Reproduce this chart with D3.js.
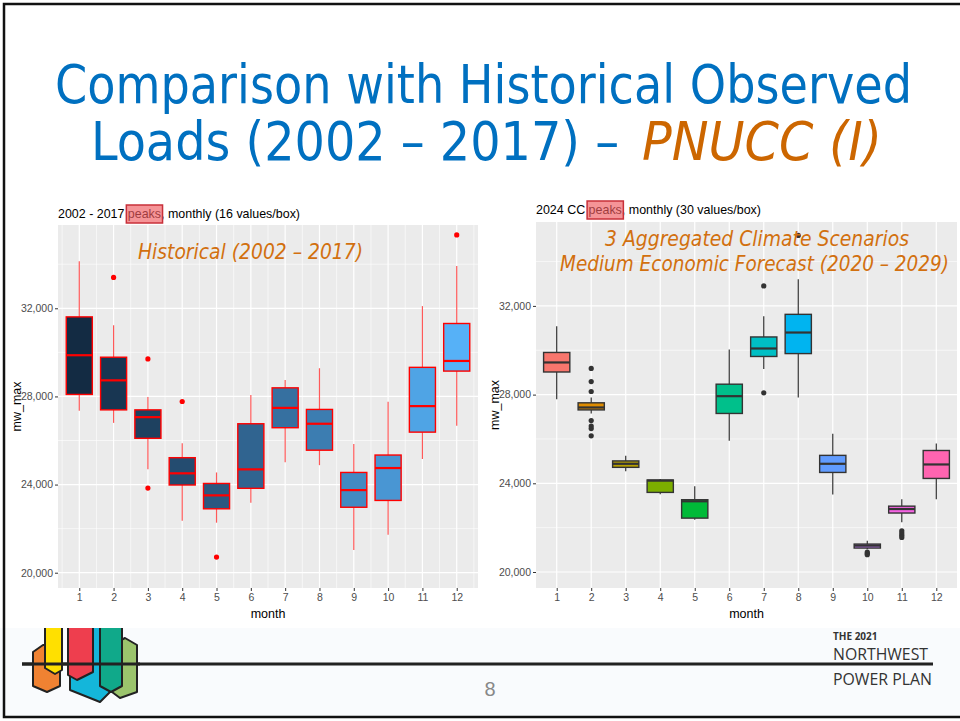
<!DOCTYPE html>
<html lang="en">
<head>
<meta charset="UTF-8">
<title>Comparison with Historical Observed Loads</title>
<script src="https://d3js.org/d3.v7.min.js"></script>
<style>
  body { margin: 0; background: #fff; }
  text { font-family: "Liberation Sans", Arial, sans-serif; }
</style>
</head>
<body>
<script>
// months on the x axis
const months = [1, 2, 3, 4, 5, 6, 7, 8, 9, 10, 11, 12];
const yTicks = [20000, 24000, 28000, 32000];
const yMinor = [22000, 26000, 30000, 34000];

// historical 2002 - 2017 peaks (left chart)
const histLow  = [27350, 26800, 24690, 22360, 22270, 23180, 25010, 24880, 21030, 21720, 25160, 26670];
const histQ1   = [28090, 27390, 26100, 23980, 22900, 23830, 26580, 25560, 22970, 23280, 26380, 29150];
const histMed  = [29870, 28730, 27060, 24510, 23510, 24690, 27480, 26760, 23750, 24750, 27560, 29610];
const histQ3   = [31610, 29780, 27390, 25220, 24050, 26760, 28390, 27410, 24550, 25340, 29320, 31310];
const histHigh = [34140, 31230, 27970, 25870, 24550, 28060, 28740, 29280, 25840, 27760, 32100, 33920];
const histOutliers = [[2, 33400], [3, 29700], [3, 23840], [4, 27770], [5, 20710], [12, 35330]];

// 2024 climate change scenario peaks (right chart)
const ccLow  = [27790, 27150, 24540, 23510, 22360, 25920, 29160, 27870, 23500, 21030, 22240, 23280];
const ccQ1   = [29020, 27310, 24720, 23590, 22430, 27150, 29720, 29850, 24490, 21080, 22660, 24220];
const ccMed  = [29450, 27420, 24880, 24120, 23190, 27930, 30080, 30800, 24880, 21190, 22840, 24850];
const ccQ3   = [29900, 27630, 25010, 24150, 23260, 28470, 30600, 31620, 25260, 21260, 22970, 25480];
const ccHigh = [31080, 27870, 25240, 24200, 23870, 30030, 31530, 33200, 26230, 21410, 23280, 25800];
const ccOutliers = [[2, 29180], [2, 28590], [2, 28140], [2, 26830], [2, 26580], [2, 26470], [2, 26140],
  [7, 32900], [7, 28080], [8, 35180], [10, 20900], [10, 20840], [10, 20780],
  [11, 21860], [11, 21760], [11, 21660], [11, 21560]];
const ccColors = ["#F8766D", "#DE8C00", "#B79F00", "#7CAE00", "#00BA38", "#00C08B",
  "#00BFC4", "#00B4F0", "#619CFF", "#C77CFF", "#F564E3", "#FF64B0"];

const width = 960, height = 721;
const svg = d3.select("body").append("svg")
  .attr("width", width)
  .attr("height", height);

// slide background + frame
svg.append("rect").attr("width", width).attr("height", height).attr("fill", "#fff");
svg.append("rect").attr("x", 0).attr("y", 628).attr("width", width).attr("height", 89).attr("fill", "#f9fbfd");
svg.append("path")
  .attr("d", "M960,4 H4 V717 H960")
  .attr("fill", "none").attr("stroke", "#111").attr("stroke-width", 2.5);

// title
const titleFont = "'Liberation Sans Narrow', 'DejaVu Sans Condensed', sans-serif";
svg.append("text")
  .attr("x", 55).attr("y", 103)
  .attr("textLength", 857).attr("lengthAdjust", "spacingAndGlyphs")
  .style("font-family", titleFont)
  .style("font-size", "54px").attr("fill", "#0070C0")
  .text("Comparison with Historical Observed");
svg.append("text")
  .attr("x", 91).attr("y", 160)
  .attr("textLength", 528).attr("lengthAdjust", "spacingAndGlyphs")
  .style("font-family", titleFont)
  .style("font-size", "54px").attr("fill", "#0070C0")
  .text("Loads (2002 – 2017) –");
svg.append("text")
  .attr("x", 642).attr("y", 160)
  .attr("textLength", 240).attr("lengthAdjust", "spacingAndGlyphs")
  .style("font-family", titleFont)
  .style("font-size", "54px").style("font-style", "italic").attr("fill", "#CC6600")
  .text("PNUCC (I)");

function drawChart(cfg) {
  const g = svg.append("g");
  const y = d3.scaleLinear().domain(cfg.yDomain).range([cfg.bottom, cfg.top]);
  let x;
  if (cfg.discrete) {
    x = d3.scalePoint().domain(months).range([cfg.left, cfg.right]).padding(0.6);
  } else {
    x = d3.scaleLinear().domain([0.38, 12.62]).range([cfg.left, cfg.right]);
  }
  const step = (x(12) - x(1)) / 11;
  const boxW = step * 0.76;

  g.append("rect")
    .attr("x", cfg.left).attr("y", cfg.top)
    .attr("width", cfg.right - cfg.left).attr("height", cfg.bottom - cfg.top)
    .attr("fill", "#EBEBEB");

  g.selectAll(".ymin").data(yMinor).join("line")
    .attr("x1", cfg.left).attr("x2", cfg.right)
    .attr("y1", d => y(d)).attr("y2", d => y(d))
    .attr("stroke", "#fff").attr("stroke-width", 0.6);
  if (!cfg.discrete) {
    g.selectAll(".xmin").data(months.concat([0])).join("line")
      .attr("x1", d => x(d + 0.5)).attr("x2", d => x(d + 0.5))
      .attr("y1", cfg.top).attr("y2", cfg.bottom)
      .attr("stroke", "#fff").attr("stroke-width", 0.6);
  }
  g.selectAll(".ymaj").data(yTicks).join("line")
    .attr("x1", cfg.left).attr("x2", cfg.right)
    .attr("y1", d => y(d)).attr("y2", d => y(d))
    .attr("stroke", "#fff").attr("stroke-width", 1.2);
  g.selectAll(".xmaj").data(months).join("line")
    .attr("x1", d => x(d)).attr("x2", d => x(d))
    .attr("y1", cfg.top).attr("y2", cfg.bottom)
    .attr("stroke", "#fff").attr("stroke-width", 1.2);

  // axes
  const yAxis = d3.axisLeft(y).tickValues(yTicks).tickSize(3).tickPadding(2)
    .tickFormat(d3.format(","));
  const ya = g.append("g").attr("transform", `translate(${cfg.left},0)`).call(yAxis);
  const xAxis = d3.axisBottom(x).tickValues(months).tickSize(3).tickPadding(3)
    .tickFormat(d3.format("d"));
  const xa = g.append("g").attr("transform", `translate(0,${cfg.bottom})`).call(xAxis);
  [ya, xa].forEach(a => {
    a.select(".domain").remove();
    a.selectAll("line").attr("stroke", "#333");
    a.selectAll("text").attr("fill", "#4D4D4D")
      .style("font-size", "10.5px").style("font-family", "'Liberation Sans', Arial, sans-serif");
  });

  g.append("text")
    .attr("x", (cfg.left + cfg.right) / 2).attr("y", 618)
    .attr("text-anchor", "middle").style("font-size", "12.5px").attr("fill", "#000")
    .text("month");
  g.append("text")
    .attr("transform", `translate(${cfg.yLabelX},${(cfg.top + cfg.bottom) / 2}) rotate(-90)`)
    .attr("text-anchor", "middle").style("font-size", "12.5px").attr("fill", "#000")
    .text("mw_max");

  // boxplots
  const boxes = g.selectAll(".box").data(months).join("g");
  boxes.append("line")
    .attr("x1", d => x(d)).attr("x2", d => x(d))
    .attr("y1", (d, i) => y(cfg.high[i])).attr("y2", (d, i) => y(cfg.q3[i]))
    .attr("stroke", cfg.lineColor).attr("stroke-opacity", cfg.whiskerOpacity).attr("stroke-width", 1.2);
  boxes.append("line")
    .attr("x1", d => x(d)).attr("x2", d => x(d))
    .attr("y1", (d, i) => y(cfg.q1[i])).attr("y2", (d, i) => y(cfg.low[i]))
    .attr("stroke", cfg.lineColor).attr("stroke-opacity", cfg.whiskerOpacity).attr("stroke-width", 1.2);
  boxes.append("rect")
    .attr("x", d => x(d) - boxW / 2).attr("width", boxW)
    .attr("y", (d, i) => y(cfg.q3[i]))
    .attr("height", (d, i) => y(cfg.q1[i]) - y(cfg.q3[i]))
    .attr("fill", (d, i) => cfg.fill(d, i))
    .attr("stroke", cfg.lineColor).attr("stroke-width", 1.4);
  boxes.append("line")
    .attr("x1", d => x(d) - boxW / 2).attr("x2", d => x(d) + boxW / 2)
    .attr("y1", (d, i) => y(cfg.med[i])).attr("y2", (d, i) => y(cfg.med[i]))
    .attr("stroke", cfg.lineColor).attr("stroke-width", 2.2);

  g.selectAll(".outlier").data(cfg.outliers).join("circle")
    .attr("cx", d => x(d[0])).attr("cy", d => y(d[1]))
    .attr("r", 2.6).attr("fill", cfg.lineColor);

  // plot title with highlighted word
  const t = g.append("text")
    .attr("x", cfg.left).attr("y", cfg.titleY)
    .attr("textLength", cfg.titleLen).attr("lengthAdjust", "spacingAndGlyphs")
    .style("font-size", "13px").attr("fill", "#000")
    .text(cfg.title);
  const node = t.node();
  const s = cfg.title.indexOf("peaks");
  const x0 = node.getStartPositionOfChar(s).x;
  const x1 = node.getEndPositionOfChar(s + 4).x;
  g.append("rect")
    .attr("x", x0 - 1.5).attr("y", cfg.titleY - 13)
    .attr("width", x1 - x0 + 3).attr("height", 18)
    .attr("fill", "#F05A5F").attr("fill-opacity", 0.65)
    .attr("stroke", "#C8303A").attr("stroke-width", 1.5);

  // annotation lines
  cfg.notes.forEach(n => {
    g.append("text")
      .attr("x", n.x).attr("y", n.y)
      .attr("textLength", n.len).attr("lengthAdjust", "spacingAndGlyphs")
      .style("font-family", "'DejaVu Sans', Verdana, sans-serif")
      .style("font-size", "21px").style("font-style", "italic")
      .attr("fill", "#D2700F")
      .text(n.text);
  });
}

const histFill = d3.interpolateLab("#132B43", "#56B1F7");

drawChart({
  left: 58, right: 478, top: 225, bottom: 588,
  yDomain: [19306, 35780], discrete: false,
  low: histLow, q1: histQ1, med: histMed, q3: histQ3, high: histHigh,
  outliers: histOutliers,
  fill: d => histFill((d - 1) / 11),
  lineColor: "#FF0000", whiskerOpacity: 0.65,
  yLabelX: 21,
  title: "2002 - 2017 peaks, monthly (16 values/box)", titleY: 218, titleLen: 242,
  notes: [{ x: 138, y: 259, len: 225, text: "Historical (2002 – 2017)" }]
});

drawChart({
  left: 536, right: 957, top: 222, bottom: 588,
  yDomain: [19279, 35784], discrete: true,
  low: ccLow, q1: ccQ1, med: ccMed, q3: ccQ3, high: ccHigh,
  outliers: ccOutliers,
  fill: (d, i) => ccColors[i],
  lineColor: "#333333", whiskerOpacity: 1,
  yLabelX: 499,
  title: "2024 CC peaks, monthly (30 values/box)", titleY: 214, titleLen: 225,
  notes: [
    { x: 605, y: 246, len: 304, text: "3 Aggregated Climate Scenarios" },
    { x: 560, y: 271, len: 389, text: "Medium Economic Forecast (2020 – 2029)" }
  ]
});

// footer
const footer = svg.append("g");
footer.append("line")
  .attr("x1", 22).attr("x2", 933).attr("y1", 664).attr("y2", 664)
  .attr("stroke", "#222").attr("stroke-width", 3);

svg.append("clipPath").attr("id", "logo-clip")
  .append("rect").attr("x", 0).attr("y", 628).attr("width", 200).attr("height", 90);

const logoShapes = [
  { c: "#F08232", p: "M33,652 L43,645 L60,645 L60,686 L47,692 L33,686 Z" },
  { c: "#FFE000", p: "M45,620 L62,620 L62,670 L55,674 L45,668 Z" },
  { c: "#14B6DA", p: "M70,620 L105,620 L112,634 L112,690 L100,702 L70,690 Z" },
  { c: "#9BC46C", p: "M112,645 L125,638 L137,645 L137,692 L120,698 L112,692 Z" },
  { c: "#EE3E4E", p: "M68,620 L93,620 L93,672 L77,680 L68,675 Z" },
  { c: "#10A98A", p: "M100,620 L122,620 L122,686 L111,692 L100,686 Z" }
];
const logo = footer.append("g").attr("clip-path", "url(#logo-clip)");
logo.selectAll(".logo").data(logoShapes).join("path")
  .attr("d", d => d.p).attr("fill", d => d.c)
  .attr("stroke", "#222").attr("stroke-width", 2).attr("stroke-linejoin", "round");
footer.append("line")
  .attr("x1", 22).attr("x2", 140).attr("y1", 664).attr("y2", 664)
  .attr("stroke", "#222").attr("stroke-width", 3);

footer.append("text")
  .attr("x", 490).attr("y", 696).attr("text-anchor", "middle")
  .style("font-size", "20px").attr("fill", "#888").text("8");

const brandFont = "'Open Sans', 'Noto Sans', sans-serif";
footer.append("text").attr("x", 833).attr("y", 640)
  .style("font-family", brandFont).style("font-size", "10px").style("font-weight", "bold")
  .attr("fill", "#333").text("THE 2021");
footer.append("text").attr("x", 833).attr("y", 660)
  .attr("textLength", 95).attr("lengthAdjust", "spacingAndGlyphs")
  .style("font-family", brandFont).style("font-size", "17px")
  .attr("fill", "#333").text("NORTHWEST");
footer.append("text").attr("x", 833).attr("y", 685)
  .attr("textLength", 99).attr("lengthAdjust", "spacingAndGlyphs")
  .style("font-family", brandFont).style("font-size", "17px")
  .attr("fill", "#333").text("POWER PLAN");
</script>
</body>
</html>
